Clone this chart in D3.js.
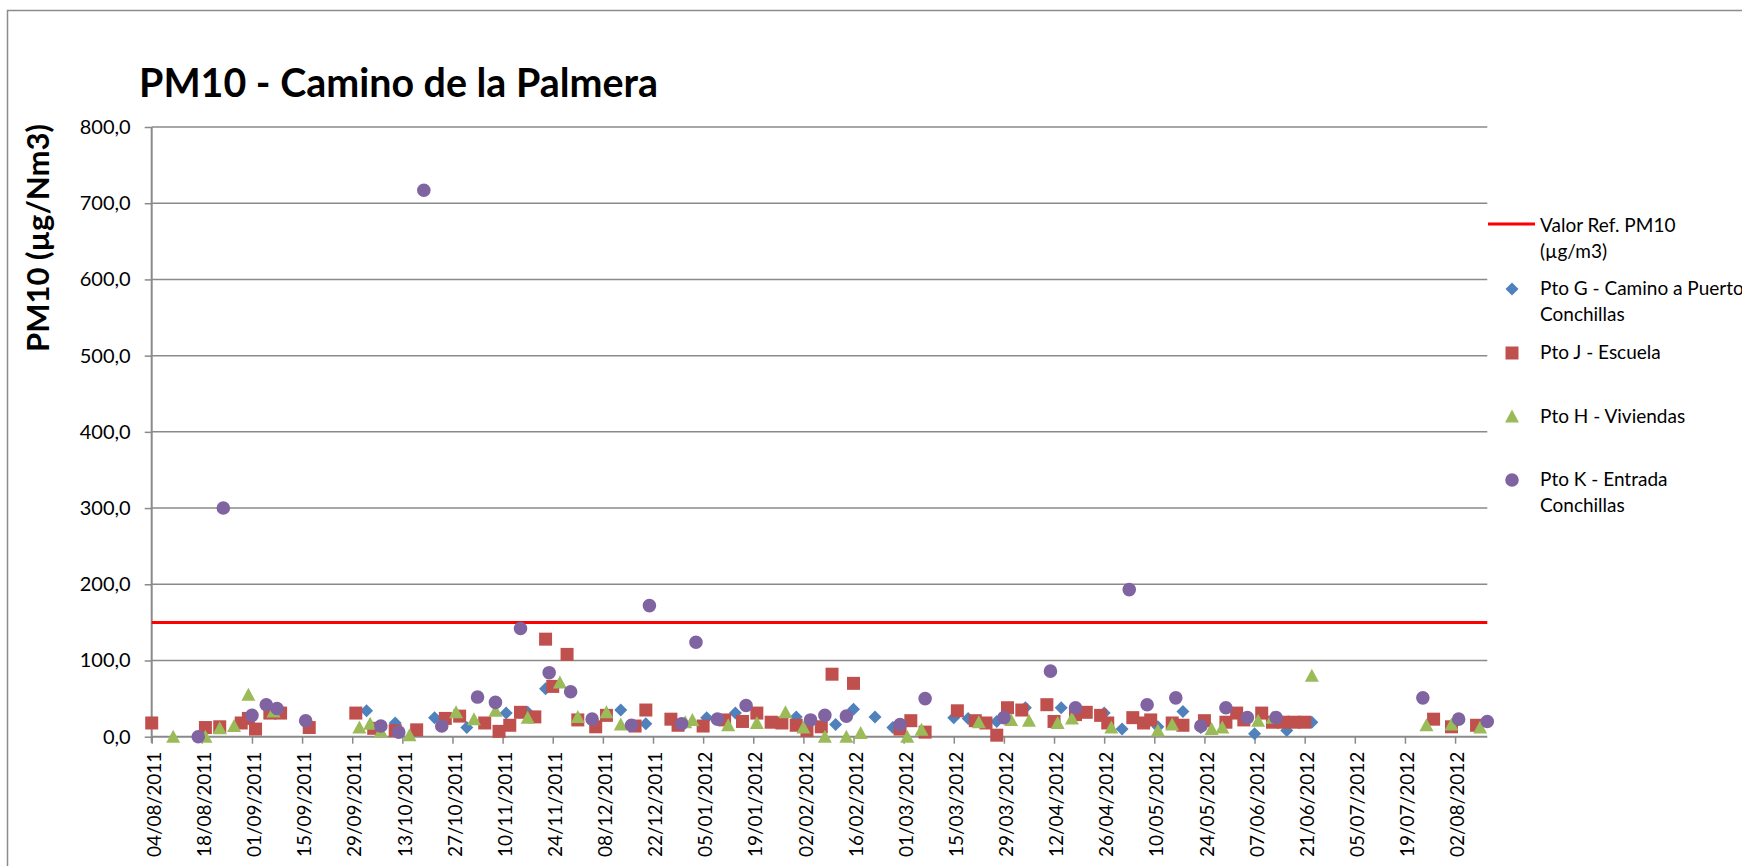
<!DOCTYPE html>
<html>
<head>
<meta charset="utf-8">
<script src="https://cdn.jsdelivr.net/npm/d3@7"></script>
<style>
    body { margin: 0; background: #fff; }
    svg { display: block; }
    text { font-family: Lato, "Open Sans", sans-serif; fill: #000; }
</style>
</head>
<body>
<div id="chart"></div>
<script>
// PM10 readings per station, dd/mm/yyyy -> µg/Nm3
var ptoG = [
    ["03/10/2011", 34], ["11/10/2011", 18], ["22/10/2011", 25], ["31/10/2011", 12],
    ["11/11/2011", 31], ["17/11/2011", 32], ["22/11/2011", 63], ["13/12/2011", 35],
    ["20/12/2011", 17], ["06/01/2012", 25], ["14/01/2012", 31], ["31/01/2012", 26],
    ["11/02/2012", 16], ["16/02/2012", 36], ["22/02/2012", 26], ["27/02/2012", 12],
    ["15/03/2012", 25], ["19/03/2012", 24], ["27/03/2012", 20], ["04/04/2012", 38],
    ["14/04/2012", 38], ["26/04/2012", 31], ["01/05/2012", 10], ["11/05/2012", 13],
    ["18/05/2012", 33], ["23/05/2012", 12], ["07/06/2012", 4], ["16/06/2012", 8],
    ["23/06/2012", 19]
];
var ptoJ = [
    ["04/08/2011", 18], ["19/08/2011", 12], ["23/08/2011", 13], ["29/08/2011", 18],
    ["31/08/2011", 24], ["02/09/2011", 10], ["06/09/2011", 31], ["09/09/2011", 31],
    ["17/09/2011", 12], ["30/09/2011", 31], ["05/10/2011", 11], ["11/10/2011", 8],
    ["17/10/2011", 9], ["25/10/2011", 24], ["29/10/2011", 27], ["05/11/2011", 18],
    ["09/11/2011", 7], ["12/11/2011", 15], ["15/11/2011", 32], ["19/11/2011", 26],
    ["22/11/2011", 128], ["24/11/2011", 66], ["28/11/2011", 108], ["01/12/2011", 22],
    ["06/12/2011", 13], ["09/12/2011", 28], ["17/12/2011", 14], ["20/12/2011", 35],
    ["27/12/2011", 23], ["29/12/2011", 15], ["05/01/2012", 14], ["11/01/2012", 22],
    ["16/01/2012", 20], ["20/01/2012", 31], ["24/01/2012", 19], ["27/01/2012", 18],
    ["31/01/2012", 15], ["03/02/2012", 8], ["07/02/2012", 13], ["10/02/2012", 82],
    ["16/02/2012", 70], ["29/02/2012", 10], ["03/03/2012", 21], ["07/03/2012", 6],
    ["16/03/2012", 34], ["21/03/2012", 21], ["24/03/2012", 18], ["27/03/2012", 2],
    ["30/03/2012", 38], ["03/04/2012", 35], ["10/04/2012", 42], ["12/04/2012", 20],
    ["18/04/2012", 29], ["21/04/2012", 32], ["25/04/2012", 28], ["27/04/2012", 18],
    ["04/05/2012", 25], ["07/05/2012", 18], ["09/05/2012", 22], ["15/05/2012", 18],
    ["18/05/2012", 15], ["24/05/2012", 21], ["30/05/2012", 19], ["02/06/2012", 31],
    ["04/06/2012", 22], ["09/06/2012", 31], ["12/06/2012", 19], ["15/06/2012", 19],
    ["18/06/2012", 19], ["21/06/2012", 19], ["27/07/2012", 23], ["01/08/2012", 13],
    ["08/08/2012", 15]
];
var ptoH = [
    ["10/08/2011", 0], ["19/08/2011", 0], ["23/08/2011", 11], ["27/08/2011", 14],
    ["31/08/2011", 55], ["07/09/2011", 33], ["01/10/2011", 12], ["04/10/2011", 17],
    ["07/10/2011", 7], ["15/10/2011", 2], ["28/10/2011", 32], ["02/11/2011", 23],
    ["08/11/2011", 34], ["17/11/2011", 25], ["26/11/2011", 71], ["01/12/2011", 26],
    ["09/12/2011", 32], ["13/12/2011", 16], ["31/12/2011", 19], ["02/01/2012", 22],
    ["12/01/2012", 15], ["20/01/2012", 18], ["28/01/2012", 32], ["02/02/2012", 12],
    ["08/02/2012", 0], ["14/02/2012", 0], ["18/02/2012", 5], ["02/03/2012", 0],
    ["06/03/2012", 9], ["22/03/2012", 19], ["31/03/2012", 22], ["05/04/2012", 21],
    ["13/04/2012", 18], ["17/04/2012", 24], ["28/04/2012", 12], ["11/05/2012", 8],
    ["15/05/2012", 16], ["26/05/2012", 10], ["29/05/2012", 12], ["08/06/2012", 21],
    ["12/06/2012", 25], ["23/06/2012", 80], ["25/07/2012", 15], ["01/08/2012", 16],
    ["09/08/2012", 12]
];
var ptoK = [
    ["17/08/2011", 0], ["24/08/2011", 300], ["01/09/2011", 28], ["05/09/2011", 42],
    ["08/09/2011", 37], ["16/09/2011", 21], ["07/10/2011", 14], ["12/10/2011", 6],
    ["19/10/2011", 717], ["24/10/2011", 14], ["03/11/2011", 52], ["08/11/2011", 45],
    ["15/11/2011", 142], ["23/11/2011", 84], ["29/11/2011", 59], ["05/12/2011", 23],
    ["16/12/2011", 15], ["21/12/2011", 172], ["30/12/2011", 17], ["03/01/2012", 124],
    ["09/01/2012", 23], ["17/01/2012", 41], ["04/02/2012", 22], ["08/02/2012", 28],
    ["14/02/2012", 27], ["29/02/2012", 16], ["07/03/2012", 50], ["29/03/2012", 25],
    ["11/04/2012", 86], ["18/04/2012", 38], ["03/05/2012", 193], ["08/05/2012", 42],
    ["16/05/2012", 51], ["23/05/2012", 14], ["30/05/2012", 38], ["05/06/2012", 25],
    ["13/06/2012", 25], ["24/07/2012", 51], ["03/08/2012", 23], ["11/08/2012", 20]
];
var refValue = 150;
var dateRange = ["04/08/2011", "11/08/2012"];
var xTickLabels = [
    "04/08/2011", "18/08/2011", "01/09/2011", "15/09/2011", "29/09/2011", "13/10/2011",
    "27/10/2011", "10/11/2011", "24/11/2011", "08/12/2011", "22/12/2011", "05/01/2012",
    "19/01/2012", "02/02/2012", "16/02/2012", "01/03/2012", "15/03/2012", "29/03/2012",
    "12/04/2012", "26/04/2012", "10/05/2012", "24/05/2012", "07/06/2012", "21/06/2012",
    "05/07/2012", "19/07/2012", "02/08/2012"
];
var yTicks = [0, 100, 200, 300, 400, 500, 600, 700, 800];
var legendLabels = [
    ["Valor Ref. PM10", "(µg/m3)"],
    ["Pto G - Camino a Puerto", "Conchillas"],
    ["Pto J - Escuela"],
    ["Pto H - Viviendas"],
    ["Pto K - Entrada", "Conchillas"]
];

var width = 1742, height = 866;
var plotLeft = 151.7, plotRight = 1487.3, plotTop = 127, plotBottom = 736.7;
var gridColor = '#8a8a8a';
var colors = { G: '#4f81bd', J: '#c0504d', H: '#9bbb59', K: '#8064a2', ref: '#ff0000' };

var parse = d3.utcParse('%d/%m/%Y');
var fmt = d3.formatLocale({ decimal: ',', thousands: '.', grouping: [3], currency: ['', '€'] }).format('.1f');

var svg = d3.select('#chart').append('svg').attr('width', width).attr('height', height);

// outer chart frame
svg.append('rect').attr('x', 7.5).attr('y', 10.5).attr('width', 1800).attr('height', 900)
    .attr('fill', 'none').attr('stroke', '#8c8c8c').attr('stroke-width', 1.5);

var x = d3.scaleUtc().domain(dateRange.map(parse)).range([plotLeft, plotRight]);
var y = d3.scaleLinear().domain([0, 800]).range([plotBottom, plotTop]);

// gridlines
svg.append('g').selectAll('line').data(yTicks.slice(1)).enter().append('line')
    .attr('x1', plotLeft).attr('x2', plotRight)
    .attr('y1', function (d) { return y(d); }).attr('y2', function (d) { return y(d); })
    .attr('stroke', gridColor).attr('stroke-width', 1.5);

// y axis
var yAxis = svg.append('g').attr('transform', 'translate(' + plotLeft + ',0)')
    .call(d3.axisLeft(y).tickValues(yTicks).tickFormat(fmt).tickSize(7).tickPadding(14));
yAxis.select('.domain').attr('stroke', gridColor).attr('stroke-width', 2)
    .attr('d', 'M0,' + plotTop + 'V' + (plotBottom + 6));
yAxis.selectAll('.tick line').attr('stroke', gridColor).attr('stroke-width', 1.5);
yAxis.selectAll('.tick text').attr('font-size', 20).attr('font-family', 'Lato, sans-serif').attr('fill', '#000');

// x axis
var xAxis = svg.append('g').attr('transform', 'translate(0,' + plotBottom + ')')
    .call(d3.axisBottom(x).tickValues(xTickLabels.map(parse)).tickSize(7)
        .tickFormat(d3.utcFormat('%d/%m/%Y')));
xAxis.select('.domain').attr('stroke', gridColor).attr('stroke-width', 2)
    .attr('d', 'M' + plotLeft + ',0H' + plotRight);
xAxis.selectAll('.tick line').attr('stroke', gridColor).attr('stroke-width', 1.5);
xAxis.selectAll('.tick text')
    .attr('font-size', 19).attr('font-family', 'Lato, sans-serif').attr('fill', '#000')
    .attr('text-anchor', 'end').attr('x', -15).attr('y', 2).attr('dy', '0.35em')
    .attr('transform', 'rotate(-90)');

// reference line
svg.append('line').attr('x1', plotLeft).attr('x2', plotRight)
    .attr('y1', y(refValue)).attr('y2', y(refValue))
    .attr('stroke', colors.ref).attr('stroke-width', 3);

// marker shapes, centred on 0,0
var shapes = {
    diamond: 'M0,-6.5L6.5,0L0,6.5L-6.5,0Z',
    square: 'M-6.5,-6.5H6.5V6.5H-6.5Z',
    triangle: 'M0,-7L7,6H-7Z',
    circle: 'M-6.8,0A6.8,6.8 0 1,0 6.8,0A6.8,6.8 0 1,0 -6.8,0Z'
};

function drawSeries(data, shape, color) {
    svg.append('g').selectAll('path').data(data).enter().append('path')
        .attr('d', shapes[shape])
        .attr('fill', color)
        .attr('transform', function (d) {
            return 'translate(' + x(parse(d[0])) + ',' + y(d[1]) + ')';
        });
}
drawSeries(ptoG, 'diamond', colors.G);
drawSeries(ptoJ, 'square', colors.J);
drawSeries(ptoH, 'triangle', colors.H);
drawSeries(ptoK, 'circle', colors.K);

// title
svg.append('text').attr('x', 139).attr('y', 97)
    .attr('font-size', 39.4).attr('font-weight', 'bold')
    .text('PM10 - Camino de la Palmera');

// y axis title
svg.append('text').attr('transform', 'translate(49,238) rotate(-90)')
    .attr('text-anchor', 'middle').attr('font-size', 31).attr('font-weight', 'bold')
    .text('PM10 (µg/Nm3)');

// legend
var legendY = [232, 295, 359, 422.5, 486];
var legendMarkers = [null, ['diamond', colors.G], ['square', colors.J], ['triangle', colors.H], ['circle', colors.K]];
var legend = svg.append('g');
legendLabels.forEach(function (lines, i) {
    var g = legend.append('g');
    if (i === 0) {
        g.append('line').attr('x1', 1488).attr('x2', 1535)
            .attr('y1', legendY[i] - 8).attr('y2', legendY[i] - 8)
            .attr('stroke', colors.ref).attr('stroke-width', 3);
    } else {
        g.append('path').attr('d', shapes[legendMarkers[i][0]]).attr('fill', legendMarkers[i][1])
            .attr('transform', 'translate(1512,' + (legendY[i] - 6) + ')');
    }
    lines.forEach(function (t, j) {
        g.append('text').attr('x', 1540).attr('y', legendY[i] + j * 25.6)
            .attr('font-size', 19).text(t);
    });
});
</script>
</body>
</html>
